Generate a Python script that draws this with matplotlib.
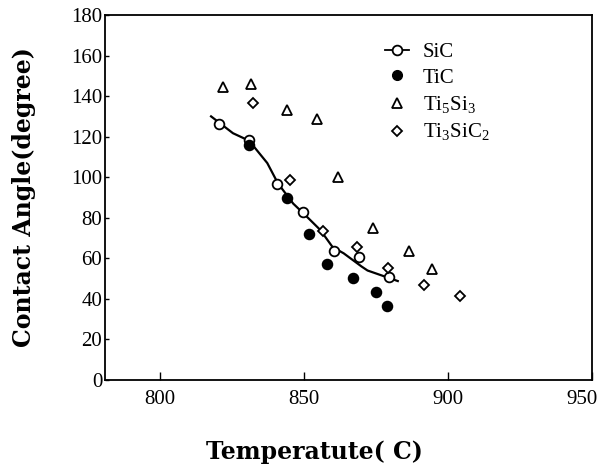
import matplotlib
matplotlib.use("Agg")
import matplotlib.pyplot as plt
import matplotlib.transforms as mtransforms
from matplotlib.lines import Line2D

# SiC (open circles)
sic_t = [820.6, 831.0, 840.8, 849.8, 860.3, 869.3, 879.4]
sic_a = [126.2, 118.3, 96.6, 82.8, 63.6, 60.6, 50.8]
# TiC (filled circles)
tic_t = [831.0, 844.3, 851.9, 858.2, 866.9, 874.9, 878.7]
tic_a = [115.9, 89.7, 72.0, 57.2, 50.3, 43.4, 36.5]
# Ti5Si3 (triangles)
ti5si3_t = [821.9, 831.7, 844.3, 854.4, 862.0, 873.9, 886.4, 894.4]
ti5si3_a = [144.5, 146.0, 133.0, 128.7, 100.0, 75.0, 63.6, 54.7]
# Ti3SiC2 (diamonds)
ti3sic2_t = [832.4, 845.3, 856.8, 868.3, 879.1, 891.6, 904.2]
ti3sic2_a = [136.6, 98.6, 73.5, 65.6, 55.2, 46.8, 41.4]
# fitted curve through SiC
fit_t = [817.8, 825.4, 831.0, 837.3, 841.0, 846.3, 850.0, 855.7, 860.0, 863.8, 870.0, 872.1, 882.6]
fit_a = [130.0, 121.7, 118.0, 107.0, 97.0, 87.0, 82.0, 74.0, 65.5, 62.5, 56.0, 54.0, 48.8]

xticks = [800, 850, 900, 950]
yticks = list(range(0, 181, 20))

plt.rcParams['mathtext.fontset'] = 'custom'
plt.rcParams['mathtext.rm'] = 'Liberation Serif'
plt.rcParams['font.family'] = ['Liberation Serif', 'DejaVu Serif']

fig = plt.figure(figsize=(6.05, 4.68), dpi=100)
ax = fig.add_axes([0.1736, 0.188, 0.8049, 0.78])

ax.plot(fit_t, fit_a, color='black', linewidth=1.6, zorder=2)
mk = dict(linestyle='none', markeredgecolor='black', markeredgewidth=1.3, zorder=3)
ax.plot(sic_t, sic_a, marker='o', markersize=7, markerfacecolor='white', **mk)
ax.plot(tic_t, tic_a, marker='o', markersize=7, markerfacecolor='black', **mk)
ax.plot(ti5si3_t, ti5si3_a, marker='^', markersize=7, markerfacecolor='white', **mk)
ax.plot(ti3sic2_t, ti3sic2_a, marker='D', markersize=5, markerfacecolor='white', **mk)

ax.set_xlim(781, 950)
ax.set_ylim(0, 180)
ax.set_xticks(xticks)
ax.set_yticks(yticks)
ax.tick_params(axis='x', direction='in', length=6, width=1, labelsize=15, pad=7)
ax.tick_params(axis='y', direction='in', length=3, width=1, labelsize=15, pad=2)
for s in ax.spines.values():
    s.set_linewidth(1.3)

# last x label sits a little left of its tick in the original
fig.canvas.draw()
last = ax.get_xticklabels()[-1]
last.set_transform(last.get_transform() +
                   mtransforms.ScaledTranslation(-10 / 100, 0, fig.dpi_scale_trans))

ax.set_ylabel('Contact Angle(degree)', fontsize=17, fontweight='bold', family='DejaVu Serif')
ax.yaxis.set_label_coords(-0.142, 0.5)
ax.set_xlabel('Temperatute( C)', fontsize=17, fontweight='bold', family='DejaVu Serif')
ax.xaxis.set_label_coords(0.431, -0.163)

handles = [
    Line2D([], [], color='black', linewidth=1.3, marker='o', markersize=7,
           markerfacecolor='white', markeredgecolor='black', markeredgewidth=1.3),
    Line2D([], [], linestyle='none', marker='o', markersize=7,
           markerfacecolor='black', markeredgecolor='black'),
    Line2D([], [], linestyle='none', marker='^', markersize=7,
           markerfacecolor='white', markeredgecolor='black', markeredgewidth=1.3),
    Line2D([], [], linestyle='none', marker='D', markersize=5,
           markerfacecolor='white', markeredgecolor='black', markeredgewidth=1.3),
]
labels = ['SiC', 'TiC', r'Ti$_5$Si$_3$', r'Ti$_3$SiC$_2$']
ax.legend(handles, labels, loc='upper left', bbox_to_anchor=(0.575, 0.925),
          frameon=False, fontsize=15, handlelength=1.15, handletextpad=0.65,
          labelspacing=0.3, borderpad=0, borderaxespad=0)

fig.savefig('out.png', dpi=100, facecolor='white')
